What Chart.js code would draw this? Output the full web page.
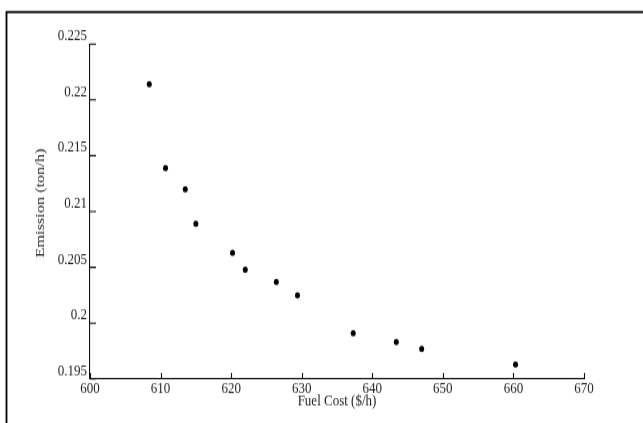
<!DOCTYPE html>
<html>
<head>
<meta charset="utf-8">
<script src="https://cdn.jsdelivr.net/npm/chart.js@4/dist/chart.umd.min.js"></script>
<style>
  html, body { margin: 0; padding: 0; background: #fff; overflow: hidden; }
  #wrap { width: 643px; height: 423px; position: relative; }
  #c { display: block; }
</style>
</head>
<body>
<div id="wrap"><canvas id="c" width="643" height="338" style="width:643px;height:423px;"></canvas></div>
<script>
// Data
const fuelCost = [608.4, 610.7, 613.5, 615.0, 620.2, 622.0, 626.4, 629.4, 637.3, 643.4, 647.0, 660.3];
const emission = [0.2214, 0.2139, 0.2120, 0.2089, 0.2063, 0.2048, 0.2037, 0.2025, 0.1991, 0.1983, 0.1977, 0.1963];
const xTicks = [600, 610, 620, 630, 640, 650, 660, 670];
const yTicks = [0.195, 0.2, 0.205, 0.21, 0.215, 0.22, 0.225];
const xTitle = 'Fuel Cost ($/h)';
const yTitle = 'Emission (ton/h)';

const FONT = 'Liberation Serif, Times New Roman, serif';

const points = fuelCost.map((x, i) => ({ x: x, y: emission[i] }));

const decor = {
  id: 'decor',
  afterDraw(chart) {
    const ctx = chart.ctx;
    const xs = chart.scales.x, ys = chart.scales.y;
    const a = chart.chartArea;
    ctx.save();
    ctx.strokeStyle = '#111';
    ctx.lineWidth = 1.1;
    ctx.beginPath();
    xTicks.forEach(v => {
      const px = Math.round(xs.getPixelForValue(v)) + 0.5;
      ctx.moveTo(px, a.bottom);
      ctx.lineTo(px, a.bottom - 4.8);
    });
    yTicks.forEach(v => {
      const py = ys.getPixelForValue(v);
      ctx.moveTo(a.left, py);
      ctx.lineTo(a.left + 6, py);
    });
    ctx.stroke();
    // outer frame (top and left)
    ctx.strokeStyle = '#000';
    ctx.lineWidth = 1.8;
    ctx.beginPath();
    ctx.moveTo(643, 9.6);
    ctx.lineTo(6.5, 9.6);
    ctx.lineTo(6.5, 338);
    ctx.stroke();
    // y title
    ctx.fillStyle = '#222';
    ctx.font = '13px ' + FONT;
    ctx.textAlign = 'center';
    ctx.textBaseline = 'middle';
    ctx.translate(41, 162.2);
    ctx.rotate(-Math.PI / 2);
    ctx.fillText(yTitle, 0, 0);
    ctx.restore();
  }
};

new Chart(document.getElementById('c'), {
  type: 'scatter',
  data: {
    datasets: [{
      data: points,
      backgroundColor: '#000',
      borderColor: '#000',
      pointRadius: 2.5,
      pointHoverRadius: 2.5,
      borderWidth: 0
    }]
  },
  options: {
    responsive: false,
    animation: false,
    events: [],
    layout: { padding: { top: 35.2, right: 59, left: 0, bottom: 0 } },
    plugins: { legend: { display: false }, tooltip: { enabled: false } },
    scales: {
      x: {
        type: 'linear',
        min: 600, max: 670,
        afterFit(s) { s.height = 35.2; },
        afterBuildTicks(s) { s.ticks = xTicks.map(v => ({ value: v })); },
        grid: { display: true, drawOnChartArea: false, drawTicks: false },
        border: { display: true, color: '#111', width: 1.1 },
        ticks: {
          color: '#222', padding: 0, maxRotation: 0, autoSkip: false,
          font: { family: FONT, size: 13 },
          callback: v => String(v)
        },
        title: {
          display: true, text: xTitle, color: '#222',
          font: { family: FONT, size: 13 },
          padding: { top: 0, bottom: 9.8 }
        }
      },
      y: {
        type: 'linear',
        min: 0.195, max: 0.225,
        afterFit(s) { s.width = 90; },
        afterBuildTicks(s) { s.ticks = yTicks.map(v => ({ value: v })); },
        grid: { display: true, drawOnChartArea: false, drawTicks: false },
        border: { display: true, color: '#111', width: 1.1 },
        ticks: {
          color: '#222', padding: 3, autoSkip: false, labelOffset: -6.4,
          font: { family: FONT, size: 13 },
          callback: v => String(parseFloat(Number(v).toFixed(3)))
        }
      }
    }
  },
  plugins: [decor]
});
</script>
</body>
</html>
